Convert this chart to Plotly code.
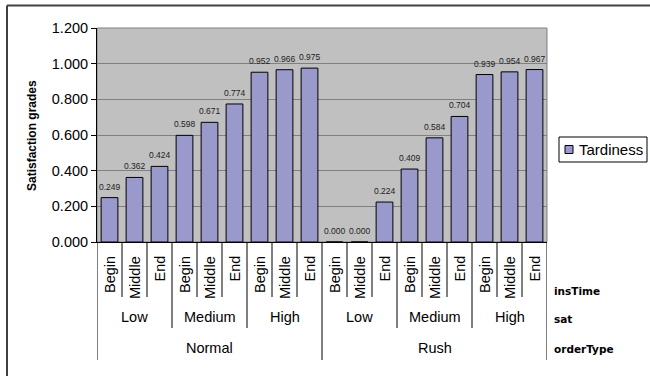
import plotly.graph_objects as go

# Hierarchical categories (outer -> inner)
order_types = ["Normal", "Rush"]
sat_levels = ["Low", "Medium", "High"]
ins_times = ["Begin", "Middle", "End"]
level_names = ["insTime", "sat", "orderType"]

series_name = "Tardiness"
tardiness = [0.249, 0.362, 0.424, 0.598, 0.671, 0.774, 0.952, 0.966, 0.975,
             0.000, 0.000, 0.224, 0.409, 0.584, 0.704, 0.939, 0.954, 0.967]

y_ticks = [0.0, 0.2, 0.4, 0.6, 0.8, 1.0, 1.2]

BAR_COLOR = "#9999CC"
FONT = "Liberation Sans, Arial, sans-serif"
WIDE_FONT = "DejaVu Sans, Verdana, sans-serif"

# Figure / plot-area geometry in pixels
FIG_W, FIG_H = 650, 376
L, R, T, B = 97, 547, 28, 242
W, H = R - L, B - T


def px_x(p):
    return (p - L) / W


def px_y(p):
    return (B - p) / H


n_in = len(ins_times)
n_sat = len(sat_levels)
n_per_order = n_in * n_sat
xs = list(range(len(tardiness)))

fig = go.Figure()
fig.add_trace(go.Bar(
    x=xs, y=tardiness, name=series_name,
    marker=dict(color=BAR_COLOR, line=dict(color="black", width=1)),
    showlegend=False,
))

shapes = []
annotations = []

# Value labels above the bars
for x, v in zip(xs, tardiness):
    annotations.append(dict(
        x=x, y=v, xref="x", yref="y", text=f"{v:.3f}", showarrow=False,
        xanchor="center", yanchor="middle", yshift=11,
        font=dict(family=FONT, size=8.5, color="#222222"),
    ))

# Category separators below the axis, deeper for outer levels
for b in range(len(tardiness) + 1):
    if b % n_per_order == 0:
        depth = 360
    elif b % n_in == 0:
        depth = 328
    else:
        depth = 297
    shapes.append(dict(
        type="line", xref="x", yref="paper", x0=b - 0.5, x1=b - 0.5,
        y0=0, y1=px_y(depth), line=dict(color="black", width=1),
    ))

# Innermost labels (rotated)
for i, x in enumerate(xs):
    annotations.append(dict(
        x=x, y=px_y(254), xref="x", yref="paper", text=ins_times[i % n_in],
        textangle=-90, showarrow=False, xanchor="center", yanchor="top",
        font=dict(family=FONT, size=14.5, color="black"),
    ))

# Middle labels
for o in range(len(order_types)):
    for s, name in enumerate(sat_levels):
        start = o * n_per_order + s * n_in
        annotations.append(dict(
            x=start + (n_in - 1) / 2, y=px_y(317), xref="x", yref="paper",
            text=name, showarrow=False, xanchor="center", yanchor="middle",
            font=dict(family=FONT, size=14.5, color="black"),
        ))

# Outer labels
for o, name in enumerate(order_types):
    annotations.append(dict(
        x=o * n_per_order + (n_per_order - 1) / 2, y=px_y(348), xref="x",
        yref="paper", text=name, showarrow=False, xanchor="center",
        yanchor="middle", font=dict(family=FONT, size=14.5, color="black"),
    ))

# Level names on the right
for name, py in zip(level_names, [291, 319, 349]):
    annotations.append(dict(
        x=px_x(552), y=px_y(py), xref="paper", yref="paper", text=f"<b>{name}</b>",
        showarrow=False, xanchor="left", yanchor="middle",
        font=dict(family=WIDE_FONT, size=10.5, color="black"),
    ))

# Y axis title
annotations.append(dict(
    x=px_x(32), y=px_y(136), xref="paper", yref="paper",
    text="<b>Satisfaction grades</b>", textangle=-90, showarrow=False,
    xanchor="center", yanchor="middle",
    font=dict(family=FONT, size=12, color="black"),
))

# Legend box
shapes.append(dict(type="rect", xref="paper", yref="paper",
                   x0=px_x(559), x1=px_x(647), y0=px_y(137), y1=px_y(162),
                   fillcolor="white", line=dict(color="black", width=1)))
shapes.append(dict(type="rect", xref="paper", yref="paper",
                   x0=px_x(565), x1=px_x(573), y0=px_y(145.5), y1=px_y(153.5),
                   fillcolor=BAR_COLOR, line=dict(color="black", width=1)))
annotations.append(dict(
    x=px_x(577), y=px_y(149.5), xref="paper", yref="paper", text=series_name,
    showarrow=False, xanchor="left", yanchor="middle",
    font=dict(family=FONT, size=15, color="black"),
))

# Plot-area border (gray) and chart frame (top/left visible)
shapes.append(dict(type="rect", xref="paper", yref="paper", x0=0, x1=1, y0=0, y1=1,
                   line=dict(color="#808080", width=1), layer="below"))
shapes.append(dict(type="line", xref="paper", yref="paper",
                   x0=px_x(7), x1=px_x(650), y0=px_y(5.5), y1=px_y(5.5),
                   line=dict(color="#404040", width=2)))
shapes.append(dict(type="line", xref="paper", yref="paper",
                   x0=px_x(7), x1=px_x(7), y0=px_y(5.5), y1=px_y(376),
                   line=dict(color="#404040", width=2)))

fig.update_layout(
    width=FIG_W, height=FIG_H, autosize=False,
    margin=dict(l=L, r=FIG_W - R, t=T, b=FIG_H - B, pad=0),
    paper_bgcolor="white", plot_bgcolor="#C0C0C0",
    bargap=0.33,
    font=dict(family=FONT, color="black"),
    shapes=shapes, annotations=annotations,
    xaxis=dict(range=[-0.5, len(tardiness) - 0.5], showticklabels=False,
               showgrid=False, zeroline=False, showline=True,
               linecolor="black", linewidth=1, ticks=""),
    yaxis=dict(range=[0, 1.2], tickvals=y_ticks,
               ticktext=[f"{v:.3f}" for v in y_ticks],
               showgrid=True, gridcolor="#808080", gridwidth=1,
               zeroline=False, showline=True, linecolor="black", linewidth=1,
               ticks="outside", ticklen=5, tickcolor="black",
               tickfont=dict(family=FONT, size=14.5, color="black")),
)

fig.write_html("out.html")
